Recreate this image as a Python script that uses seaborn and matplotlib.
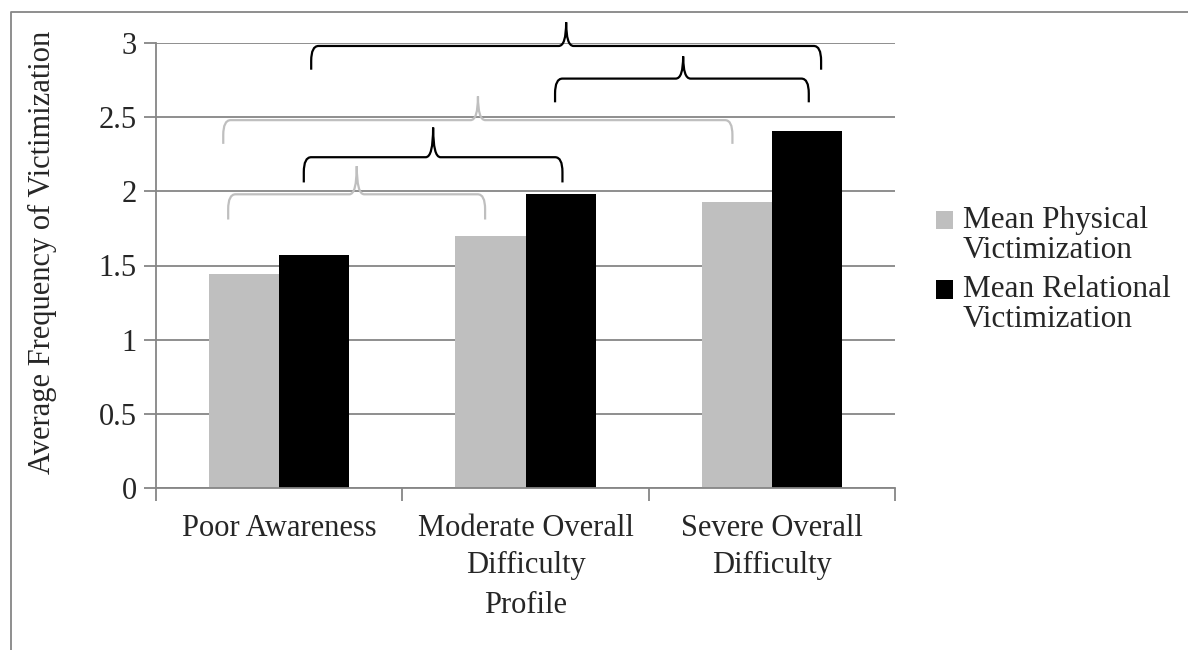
import matplotlib
matplotlib.use("Agg")
import matplotlib.pyplot as plt
import seaborn as sns
import pandas as pd
from matplotlib.path import Path
from matplotlib.patches import PathPatch
from matplotlib.lines import Line2D

categories = ["Poor Awareness", "Moderate Overall\nDifficulty", "Severe Overall\nDifficulty"]
series_names = ["Mean Physical\nVictimization", "Mean Relational\nVictimization"]
physical = [1.44, 1.70, 1.93]
relational = [1.57, 1.98, 2.41]
y_ticks = [0, 0.5, 1, 1.5, 2, 2.5, 3]
y_tick_labels = ["0", "0.5", "1", "1.5", "2", "2.5", "3"]

# significance braces: (x_left, x_right, x_tip, y_bottom, y_horizontal, y_tip, colour)
braces = [
    (0.13, 2.20, 1.165, 2.82, 2.98, 3.14, "black"),
    (1.12, 2.15, 1.64, 2.60, 2.76, 2.91, "black"),
    (-0.227, 1.84, 0.807, 2.32, 2.48, 2.64, "#BFBFBF"),
    (0.10, 1.15, 0.625, 2.06, 2.23, 2.43, "black"),
    (-0.207, 0.836, 0.315, 1.81, 1.98, 2.17, "#BFBFBF"),
]

df = pd.DataFrame({
    "Profile": categories * 2,
    "Series": [series_names[0]] * 3 + [series_names[1]] * 3,
    "Value": physical + relational,
})

sns.set_style("white")
plt.rcParams["font.family"] = ["Liberation Serif", "DejaVu Serif"]

FS = 22
fig = plt.figure(figsize=(11.88, 6.5), dpi=100)
ax = fig.add_axes([156 / 1188, 1 - 488 / 650, (895 - 156) / 1188, (488 - 43) / 650])

sns.barplot(data=df, x="Profile", y="Value", hue="Series", order=categories,
            hue_order=series_names, palette=["#BFBFBF", "#000000"],
            width=0.57, gap=0, saturation=1, ax=ax, zorder=2, edgecolor="none")

ax.set_xlim(-0.5, 2.5)
ax.set_ylim(0, 3)
ax.set_yticks(y_ticks)
ax.set_yticklabels(y_tick_labels, fontsize=FS)
ax.yaxis.grid(True, color="#868686", linewidth=1.3, zorder=0)
ax.set_axisbelow(True)
ax.tick_params(axis="y", length=9, color="#868686", width=1.3, pad=5, left=True)

ax.set_xticks([0, 1, 2])
ax.set_xticklabels(categories, fontsize=FS, linespacing=1.35)
ax.tick_params(axis="x", length=0, pad=19)
ax.set_xticks([-0.5, 0.5, 1.5, 2.5], minor=True)
ax.tick_params(axis="x", which="minor", length=9, color="#868686", width=1.3, bottom=True)

for s in ["top", "right"]:
    ax.spines[s].set_visible(False)
for s in ["left", "bottom"]:
    ax.spines[s].set_color("#868686")
    ax.spines[s].set_linewidth(1.3)

ax.set_xlabel("Profile", fontsize=FS, labelpad=8)
ax.set_ylabel("Average Frequency of Victimization", fontsize=FS)
ax.yaxis.set_label_coords((57 - 156) / 739, (488 - 252) / 445)


def brace(x0, x1, xt, yb, yh, yt, color):
    rx, ry, tx = 0.03, 0.1, 0.03
    verts = [
        (x0, yb), (x0, yh - ry),
        (x0, yh), (x0 + rx, yh),
        (xt - tx, yh),
        (xt, yh), (xt, yt),
        (xt, yh), (xt + tx, yh),
        (x1 - rx, yh),
        (x1, yh), (x1, yh - ry),
        (x1, yb),
    ]
    codes = [Path.MOVETO, Path.LINETO,
             Path.CURVE3, Path.CURVE3,
             Path.LINETO,
             Path.CURVE3, Path.CURVE3,
             Path.CURVE3, Path.CURVE3,
             Path.LINETO,
             Path.CURVE3, Path.CURVE3,
             Path.LINETO]
    p = PathPatch(Path(verts, codes), facecolor="none", edgecolor=color,
                  linewidth=1.6, clip_on=False, zorder=5)
    ax.add_patch(p)


for b in braces:
    brace(*b)

leg = ax.legend(loc="center left", bbox_to_anchor=(936 / 1188, 1 - 270 / 650),
                bbox_transform=fig.transFigure, frameon=False, fontsize=22.5,
                handlelength=0.55, handleheight=0.55, handletextpad=0.3,
                labelspacing=0.35, borderaxespad=0, borderpad=0, title=None)
for t in leg.get_texts():
    t.set_linespacing(1.02)
# align the colour squares with the first line of each label
for h in leg.legend_handles:
    h.set_y(h.get_y() + 11)

# outer frame (top and left edges)
fig.add_artist(Line2D([11 / 1188, 11 / 1188, 1.0], [0.0, 1 - 12 / 650, 1 - 12 / 650],
                      transform=fig.transFigure, color="#868686", linewidth=1.3))

fig.savefig("out.png", dpi=100)
